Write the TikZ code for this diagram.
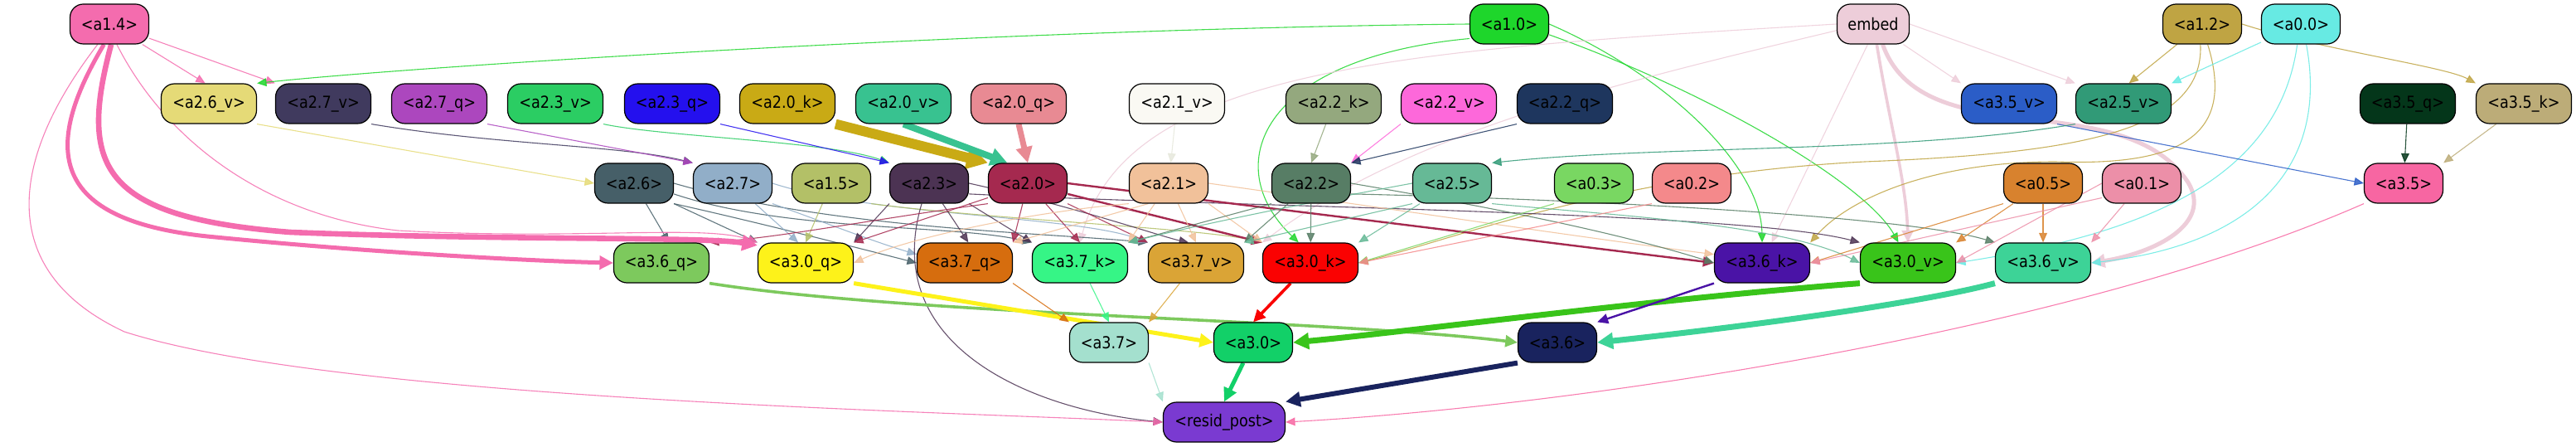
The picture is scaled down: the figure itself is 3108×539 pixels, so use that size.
\documentclass[tikz,border=0pt]{standalone}
\usepackage{fontspec}
\setmainfont{DejaVu Sans}[FakeStretch=0.88]
\usetikzlibrary{arrows.meta}
\pgfdeclarelayer{bg}
\pgfsetlayers{bg,main}
\definecolor{ca14}{HTML}{F46CAE}
\definecolor{ca26v}{HTML}{E5DA77}
\definecolor{ca27v}{HTML}{403A5E}
\definecolor{ca27q}{HTML}{AC47BE}
\definecolor{ca23v}{HTML}{2BCD63}
\definecolor{ca23q}{HTML}{2410EE}
\definecolor{ca20k}{HTML}{C9AA15}
\definecolor{ca20v}{HTML}{38C290}
\definecolor{ca20q}{HTML}{E88A93}
\definecolor{ca21v}{HTML}{FAF9F3}
\definecolor{ca21ve}{HTML}{E6E8DC}
\definecolor{ca22k}{HTML}{94A87E}
\definecolor{ca22v}{HTML}{FD68DA}
\definecolor{ca22q}{HTML}{1E365E}
\definecolor{ca10}{HTML}{1ED62B}
\definecolor{cemb}{HTML}{EDCDD9}
\definecolor{ca35v}{HTML}{2B5DC7}
\definecolor{ca25v}{HTML}{319A77}
\definecolor{ca12}{HTML}{BFA443}
\definecolor{ca00}{HTML}{67EAE3}
\definecolor{ca35q}{HTML}{04361A}
\definecolor{ca35k}{HTML}{BCAC78}
\definecolor{ca26}{HTML}{465F68}
\definecolor{ca27}{HTML}{91AEC8}
\definecolor{ca15}{HTML}{B3C067}
\definecolor{ca23}{HTML}{4C3353}
\definecolor{ca20}{HTML}{A5294F}
\definecolor{ca21}{HTML}{F1C19A}
\definecolor{ca22}{HTML}{577D65}
\definecolor{ca25}{HTML}{66B996}
\definecolor{ca03}{HTML}{79D762}
\definecolor{ca02}{HTML}{F4898B}
\definecolor{ca05}{HTML}{D8822E}
\definecolor{ca01}{HTML}{EC8FA8}
\definecolor{ca35}{HTML}{F766A2}
\definecolor{ca36q}{HTML}{7DC95D}
\definecolor{ca30q}{HTML}{FDF21A}
\definecolor{ca37q}{HTML}{D66D0E}
\definecolor{ca37k}{HTML}{36F586}
\definecolor{ca37v}{HTML}{DAA436}
\definecolor{ca30k}{HTML}{FA0202}
\definecolor{ca36k}{HTML}{4A13A6}
\definecolor{ca30v}{HTML}{39C41A}
\definecolor{ca36v}{HTML}{3DD397}
\definecolor{ca37}{HTML}{A4E0CE}
\definecolor{ca30}{HTML}{12D068}
\definecolor{ca36}{HTML}{19235E}
\definecolor{crp}{HTML}{7A3AD1}
\tikzset{
  nd/.style={draw=black, line width=0.6pt, rounded corners=8pt, minimum height=24pt,
    inner xsep=1pt, inner ysep=0pt, font=\fontsize{10}{12}\selectfont, text=black},
  wa/.style={nd, minimum width=47.5pt},
  wv/.style={nd, minimum width=57.5pt},
  e/.style={-{Triangle[length=5pt 1.3, width=4pt 1.6]}, line width=0.55pt, opacity=0.85},
  e2/.style={e, line width=1.2pt, opacity=1},
  e3/.style={e, line width=1.8pt, opacity=1},
  e4/.style={e, line width=2.5pt, opacity=1},
  e5/.style={e, line width=3.3pt, opacity=1},
  e6/.style={e, line width=5pt, opacity=1},
}
\begin{document}
\begin{tikzpicture}[x=0.5pt,y=-0.5pt]
\useasboundingbox (0,0) rectangle (3108,539);
% row 1
\node[wa, fill=ca14] (a14) at (132,29) {<a1.4>};
\node[wa, fill=ca10] (a10) at (1821,29) {<a1.0>};
\node[nd, minimum width=43.5pt, fill=cemb] (emb) at (2260,29) {embed};
\node[wa, fill=ca12] (a12) at (2657,29) {<a1.2>};
\node[wa, fill=ca00] (a00) at (2776,29) {<a0.0>};
% row 2
\node[wv, fill=ca26v] (a26v) at (252,125) {<a2.6\_v>};
\node[wv, fill=ca27v] (a27v) at (390,125) {<a2.7\_v>};
\node[wv, fill=ca27q] (a27q) at (530,125) {<a2.7\_q>};
\node[wv, fill=ca23v] (a23v) at (670,125) {<a2.3\_v>};
\node[wv, fill=ca23q] (a23q) at (811,125) {<a2.3\_q>};
\node[wv, fill=ca20k] (a20k) at (950,125) {<a2.0\_k>};
\node[wv, fill=ca20v] (a20v) at (1090,125) {<a2.0\_v>};
\node[wv, fill=ca20q] (a20q) at (1229,125) {<a2.0\_q>};
\node[wv, fill=ca21v] (a21v) at (1420,125) {<a2.1\_v>};
\node[wv, fill=ca22k] (a22k) at (1609,125) {<a2.2\_k>};
\node[wv, fill=ca22v] (a22v) at (1748,125) {<a2.2\_v>};
\node[wv, fill=ca22q] (a22q) at (1888,125) {<a2.2\_q>};
\node[wv, fill=ca35v] (a35v) at (2424,125) {<a3.5\_v>};
\node[wv, fill=ca25v] (a25v) at (2562,125) {<a2.5\_v>};
\node[wv, fill=ca35q] (a35q) at (2905,125) {<a3.5\_q>};
\node[wv, fill=ca35k] (a35k) at (3045,125) {<a3.5\_k>};
% row 3
\node[wa, fill=ca26] (a26) at (765,221) {<a2.6>};
\node[wa, fill=ca27] (a27) at (884,221) {<a2.7>};
\node[wa, fill=ca15] (a15) at (1003,221) {<a1.5>};
\node[wa, fill=ca23] (a23) at (1121,221) {<a2.3>};
\node[wa, fill=ca20] (a20) at (1240,221) {<a2.0>};
\node[wa, fill=ca21] (a21) at (1410,221) {<a2.1>};
\node[wa, fill=ca22] (a22) at (1582,221) {<a2.2>};
\node[wa, fill=ca25] (a25) at (1752,221) {<a2.5>};
\node[wa, fill=ca03] (a03) at (1923,221) {<a0.3>};
\node[wa, fill=ca02] (a02) at (2041,221) {<a0.2>};
\node[wa, fill=ca05] (a05) at (2465,221) {<a0.5>};
\node[wa, fill=ca01] (a01) at (2584,221) {<a0.1>};
\node[wa, fill=ca35] (a35) at (2900,221) {<a3.5>};
% row 4
\node[wv, fill=ca36q] (a36q) at (798,317) {<a3.6\_q>};
\node[wv, fill=ca30q] (a30q) at (972,317) {<a3.0\_q>};
\node[wv, fill=ca37q] (a37q) at (1164,317) {<a3.7\_q>};
\node[wv, fill=ca37k] (a37k) at (1303,317) {<a3.7\_k>};
\node[wv, fill=ca37v] (a37v) at (1443,317) {<a3.7\_v>};
\node[wv, fill=ca30k] (a30k) at (1581,317) {<a3.0\_k>};
\node[wv, fill=ca36k] (a36k) at (2126,317) {<a3.6\_k>};
\node[wv, fill=ca30v] (a30v) at (2302,317) {<a3.0\_v>};
\node[wv, fill=ca36v] (a36v) at (2465,317) {<a3.6\_v>};
% row 5
\node[wa, fill=ca37] (a37) at (1338,413) {<a3.7>};
\node[wa, fill=ca30] (a30) at (1512,413) {<a3.0>};
\node[wa, fill=ca36] (a36) at (1879,413) {<a3.6>};
% row 6
\node[nd, minimum width=73.5pt, fill=crp] (rp) at (1477,509) {<resid\_post>};

\begin{pgfonlayer}{bg}
% ---- top edges
\draw[e, ca14] (a14) -- (a26v.100);
\draw[e, ca14] (a14) -- (a27v.north west);
\draw[e, ca10] (a10.west) .. controls (1200,35) and (500,80) .. (a26v.north east);
\draw[e, ca10] (a10.200) .. controls (1520,70) and (1470,200) .. (a30k.120);
\draw[e, ca10] (a10.east) .. controls (2010,90) and (2125,200) .. (a36k.north);
\draw[e, ca10] (a10.345) .. controls (2060,110) and (2250,220) .. (a30v.115);
\draw[e, cemb] (emb) -- (a35v.north west);
\draw[e, cemb] (emb.east) -- (a25v.north west);
\draw[e, cemb] (emb.west) .. controls (1700,60) and (1360,80) .. (a37k.north);
\draw[e, cemb] (emb.190) .. controls (1950,100) and (1700,160) .. (a30k.north west);
\draw[e, cemb] (emb.255) -- (a36k.65);
\draw[e3, cemb] (emb.280) .. controls (2280,150) and (2300,220) .. (a30v.north);
\draw[e4, cemb] (emb.295) .. controls (2320,190) and (2560,100) .. (2640,220) .. controls (2670,270) and (2600,305) .. (a36v.east);
\draw[e, ca12] (a12) -- (a25v.75);
\draw[e, ca12] (a12.east) .. controls (2800,60) and (2950,80) .. (a35k.north west);
\draw[e, ca12] (a12.265) .. controls (2660,160) and (2500,185) .. (2250,195) .. controls (1950,210) and (1750,290) .. (a30k.east);
\draw[e, ca12] (a12.285) .. controls (2700,170) and (2620,200) .. (2480,195) .. controls (2330,195) and (2230,240) .. (a36k.north east);
\draw[e, ca00] (a00) -- (a25v.north east);
\draw[e, ca00] (a00.260) .. controls (2750,210) and (2600,280) .. (a30v.east);
\draw[e, ca00] (a00.285) .. controls (2810,200) and (2720,295) .. (a36v.east);
\draw[e, ca35v] (a35v.south east) -- (a35.west);
\draw[e, ca35q] (a35q) -- (a35);
\draw[e, ca35k] (a35k) -- (a35.north east);
\draw[e, ca35] (a35.south west) .. controls (2500,400) and (1900,490) .. (rp.east);
% ---- row2 -> row3
\draw[e, ca26v] (a26v.south east) -- (a26.west);
\draw[e, ca27v] (a27v.south east) .. controls (600,175) and (750,175) .. (a27.north west);
\draw[e, ca27q] (a27q.south east) -- (a27.north west);
\draw[e, ca23v] (a23v.south east) .. controls (800,165) and (1000,170) .. (a23.north west);
\draw[e, ca23q] (a23q.south east) -- (a23.north west);
\draw[e6, ca20k, line width=6pt] (a20k.south east) -- (a20.north west);
\draw[e6, ca20v, line width=4pt] (a20v.south) -- (a20.135);
\draw[e6, ca20q, line width=3.5pt] (a20q.south) -- (a20.north);
\draw[e, ca21ve] (a21v) -- (a21);
\draw[e, ca22k] (a22k) -- (a22.north);
\draw[e, ca22v] (a22v.south west) -- (a22.north east);
\draw[e, ca22q] (a22q.south west) -- (a22.north east);
\draw[e, ca25v] (a25v.south west) .. controls (2300,185) and (2000,175) .. (a25.north east);
% ---- row3 -> row4
\draw[e, ca26] (a26) -- (a36q.70);
\draw[e, ca26] (a26.south east) -- (a30q.north west);
\draw[e, ca26] (a26.south east) .. controls (900,265) and (1000,290) .. (a37q.west);
\draw[e, ca26] (a26.345) .. controls (950,280) and (1150,270) .. (a37k.north west);
\draw[e, ca26] (a26.east) .. controls (1000,275) and (1250,280) .. (a37v.north west);
\draw[e, ca27] (a27) -- (a30q.110);
\draw[e, ca27] (a27.south east) .. controls (1000,270) and (1050,290) .. (a37q.170);
\draw[e, ca27] (a27.east) .. controls (1050,260) and (1300,260) .. (a37v.north west);
\draw[e, ca15] (a15) -- (a30q.north);
\draw[e, ca15] (a15.south east) .. controls (1200,265) and (1450,275) .. (a30k.north west);
\draw[e, ca23] (a23.south west) -- (a30q.north east);
\draw[e, ca23] (a23) -- (a37q.80);
\draw[e, ca23] (a23.south east) -- (a37k.north west);
\draw[e, ca23] (a23.east) .. controls (1300,250) and (1400,285) .. (a37v.110);
\draw[e, ca23] (a23.250) .. controls (1060,420) and (1250,495) .. (rp.west);
\draw[e, ca23] (a23.345) .. controls (1500,250) and (2100,255) .. (a30v.north west);
\draw[e, ca20] (a20.south west) .. controls (1050,265) and (950,285) .. (a36q.north east);
\draw[e, ca20] (a20.200) -- (a30q.north east);
\draw[e, ca20] (a20) -- (a37q.north east);
\draw[e, ca20] (a20) -- (a37k.north);
\draw[e, ca20] (a20.south east) -- (a37v.north west);
\draw[e2, ca20] (a20.345) -- (a30k.north west);
\draw[e2, ca20] (a20.east) -- (a36k.west);
\draw[e, ca21] (a21.south west) .. controls (1250,255) and (1100,285) .. (a30q.east);
\draw[e, ca21] (a21.225) -- (a37q.north east);
\draw[e, ca21] (a21) -- (a37k.north east);
\draw[e, ca21] (a21) -- (a37v.north);
\draw[e, ca21] (a21.south east) -- (a30k.north west);
\draw[e, ca21] (a21.east) .. controls (1700,255) and (1900,285) .. (a36k.170);
\draw[e, ca22] (a22.south west) -- (a37k.north east);
\draw[e, ca22] (a22) -- (a37v.north east);
\draw[e, ca22] (a22) -- (a30k);
\draw[e, ca22] (a22.east) .. controls (1800,250) and (1950,280) .. (a36k.west);
\draw[e, ca22] (a22.345) .. controls (1900,240) and (2300,260) .. (a36v.north west);
\draw[e, ca25] (a25) -- (a30k.north east);
\draw[e, ca25] (a25.south west) -- (a37v.north east);
\draw[e, ca25] (a25.west) .. controls (1600,240) and (1450,270) .. (a37k.north east);
\draw[e, ca25] (a25.south east) .. controls (1950,260) and (2150,270) .. (a30v.west);
\draw[e, ca03] (a03.south west) -- (a30k.east);
\draw[e, ca02] (a02.south west) -- (a30k.east);
\draw[e, ca05] (a05.south west) -- (a36k.east);
\draw[e, ca05] (a05) -- (a30v.north east);
\draw[e, ca05] (a05) -- (a36v);
\draw[e, ca01] (a01.west) -- (a30v.east);
\draw[e, ca01] (a01.200) -- (a36k.east);
\draw[e, ca01] (a01) -- (a36v.north east);
% ---- a1.4 long edges
\draw[e4, ca14] (a14.255) .. controls (50,180) and (60,265) .. (250,285) .. controls (450,305) and (650,315) .. (a36q.west);
\draw[e5, ca14] (a14.275) .. controls (95,200) and (120,262) .. (350,280) .. controls (600,290) and (850,285) .. (a30q.160);
\draw[e, ca14] (a14.290) .. controls (200,170) and (320,260) .. (480,278) .. controls (700,290) and (850,270) .. (a30q.north west);
\draw[e, ca14] (a14.240) .. controls (5,200) and (0,330) .. (150,400) .. controls (400,480) and (1100,495) .. (rp.west);
% ---- lower
\draw[e3, ca36q] (a36q.south east) .. controls (1100,380) and (1600,385) .. (a36.west);
\draw[e4, ca30q] (a30q.south east) -- (a30.west);
\draw[e, ca37q] (a37q.south east) -- (a37.north west);
\draw[e, ca37k] (a37k) -- (a37.north);
\draw[e, ca37v] (a37v) -- (a37.north east);
\draw[e3, ca30k] (a30k) -- (a30.north);
\draw[e6, ca30v, line width=3.5pt] (a30v.south west) .. controls (2000,360) and (1700,400) .. (a30.east);
\draw[e2, ca36k] (a36k.south west) -- (a36.north east);
\draw[e6, ca36v, line width=3.5pt] (a36v.south west) .. controls (2300,370) and (2050,400) .. (a36.east);
\draw[e, ca37] (a37.south east) -- (rp.north west);
\draw[e4, ca30] (a30) -- (rp.north);
\draw[e6, ca36, line width=3pt] (a36.south west) -- (rp.north east);
\end{pgfonlayer}
\end{tikzpicture}
\end{document}
